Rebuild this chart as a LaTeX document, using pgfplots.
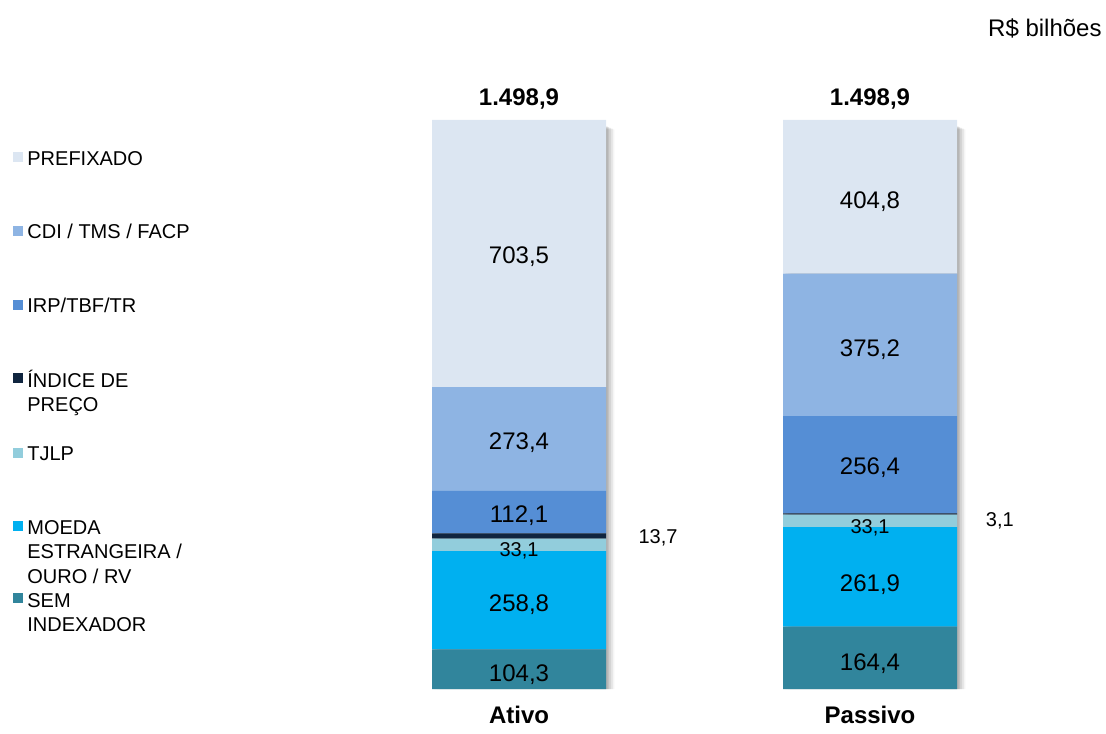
\documentclass[border=0pt]{standalone}
\usepackage{fontspec}
\setmainfont{Liberation Sans}
\usepackage{pgfplots}
\pgfplotsset{compat=1.18}
\definecolor{cPre}{HTML}{DCE6F2}
\definecolor{cCdi}{HTML}{8EB4E3}
\definecolor{cIrp}{HTML}{558ED5}
\definecolor{cInd}{HTML}{10253F}
\definecolor{cTjlp}{HTML}{92CDDC}
\definecolor{cMoe}{HTML}{00B0F0}
\definecolor{cSem}{HTML}{31859C}
\newcommand{\fs}[1]{\fontsize{#1}{#1}\selectfont}
\tikzset{big/.style={font=\fs{12}}, small/.style={font=\fs{10}}}
\pgfplotsset{common/.style={at={(206.85pt,22pt)}, anchor=south west, scale only axis,
  width=280.8pt, height=303.7pt, xmin=-0.3, xmax=1.3, ymin=0, ymax=1600, clip=false}}
\begin{document}
\begin{tikzpicture}
\useasboundingbox (0,0) rectangle (553pt,366.5pt);
% shadow axis
\begin{axis}[common, hide axis, ybar, bar width=87pt]
\addplot[fill=black, draw=none, opacity=0.09, bar shift=0.8pt] coordinates {(0,1482) (1,1482)};
\addplot[fill=black, draw=none, opacity=0.09, bar shift=1.6pt] coordinates {(0,1480) (1,1480)};
\addplot[fill=black, draw=none, opacity=0.08, bar shift=2.5pt] coordinates {(0,1478) (1,1478)};
\addplot[fill=black, draw=none, opacity=0.06, bar shift=3.4pt] coordinates {(0,1476) (1,1476)};
\addplot[fill=black, draw=none, opacity=0.04, bar shift=4.2pt] coordinates {(0,1474) (1,1474)};
\end{axis}
% main axis
\begin{axis}[common, ybar stacked, bar width=87pt,
  axis line style={draw=none}, major tick length=0pt,
  ytick=\empty, xtick={0,1}, xticklabels={Ativo,Passivo},
  xticklabel style={font=\fs{12}\bfseries, yshift=-5pt}]
\addplot[fill=cSem, draw=none] coordinates {(0,104.3) (1,164.4)};
\addplot[fill=cMoe, draw=none] coordinates {(0,258.8) (1,261.9)};
\addplot[fill=cTjlp, draw=none] coordinates {(0,33.1) (1,33.1)};
\addplot[fill=cInd, draw=none] coordinates {(0,13.7) (1,3.1)};
\addplot[fill=cIrp, draw=none] coordinates {(0,112.1) (1,256.4)};
\addplot[fill=cCdi, draw=none] coordinates {(0,273.4) (1,375.2)};
\addplot[fill=cPre, draw=none] coordinates {(0,703.5) (1,404.8)};
\end{axis}
% label axis
\begin{axis}[common, hide axis]
\node[big] at (axis cs:0,38) {104,3};
\node[big] at (axis cs:0,222) {258,8};
\node[big] at (axis cs:0,457) {112,1};
\node[big] at (axis cs:0,649) {273,4};
\node[big] at (axis cs:0,1138) {703,5};
\node[big] at (axis cs:1,67) {164,4};
\node[big] at (axis cs:1,275) {261,9};
\node[big] at (axis cs:1,583) {256,4};
\node[big] at (axis cs:1,894) {375,2};
\node[big] at (axis cs:1,1284) {404,8};
\node[big] at (axis cs:0,1554) {\bfseries 1.498,9};
\node[big] at (axis cs:1,1554) {\bfseries 1.498,9};
\node[small] at (axis cs:0,363) {33,1};
\node[small] at (axis cs:1,425) {33,1};
\node[small] at (axis cs:0.396,399) {13,7};
\node[small] at (axis cs:1.370,442) {3,1};
\end{axis}
% unit label
\node[anchor=east, big, inner sep=0pt] at (551pt,352.5pt) {R\$ bilhões};
% legend
\foreach \y/\c in {157.5/cPre, 231/cCdi, 305/cIrp, 378.5/cInd, 453/cTjlp, 526.5/cMoe, 598/cSem}{
  \fill[\c] (6.5pt,{0.5*(733-\y)*1pt-2.5pt}) rectangle ++(5pt,5pt);
}
\foreach \y/\t in {158/{PREFIXADO}, 231/{CDI / TMS / FACP}, 305/{IRP/TBF/TR}, 380/{ÍNDICE DE}, 404/{PREÇO}, 453/{TJLP}, 527/{MOEDA}, 551/{ESTRANGEIRA /}, 576/{OURO / RV}, 600/{SEM}, 624/{INDEXADOR}}{
  \node[small, anchor=base west, inner sep=0pt] at (13.5pt,{0.5*(733-\y)*1pt-3.6pt}) {\t};
}
\end{tikzpicture}
\end{document}
